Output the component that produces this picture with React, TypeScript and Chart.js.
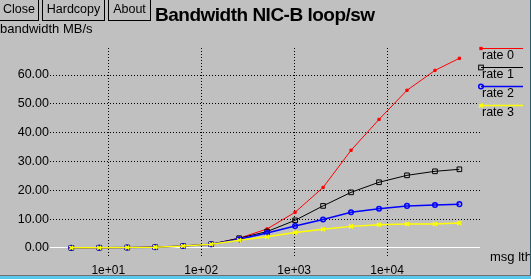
import React, { useEffect, useRef } from "react";
import { Chart, registerables } from "chart.js";

Chart.register(...registerables);

const msgLengths = [4, 8, 16, 32, 64, 128, 256, 512, 1024, 2048, 4096, 8192, 16384, 32768, 60000];
const rate0 = [0.05, 0.1, 0.15, 0.3, 0.7, 1.3, 3.4, 6.6, 12.4, 21.0, 33.9, 44.6, 54.7, 61.6, 65.8];
const rate1 = [0.05, 0.1, 0.15, 0.3, 0.7, 1.3, 3.4, 5.7, 9.6, 14.6, 19.3, 22.8, 25.2, 26.6, 27.3];
const rate2 = [0.05, 0.1, 0.15, 0.3, 0.7, 1.3, 3.0, 5.2, 7.6, 9.9, 12.4, 13.6, 14.6, 14.9, 15.2];
const rate3 = [0.05, 0.1, 0.15, 0.3, 0.7, 1.3, 2.7, 3.9, 5.4, 6.5, 7.5, 8.1, 8.3, 8.3, 8.7];
const seriesNames = ["rate 0", "rate 1", "rate 2", "rate 3"];
const xTickValues = [10, 100, 1000, 10000];
const xTickLabels = ["1e+01", "1e+02", "1e+03", "1e+04"];
const yTickValues = [0, 10, 20, 30, 40, 50, 60];

const FONT = '"Liberation Sans", Arial, Helvetica, sans-serif';

type Style = { color: string; marker: string; radius: number; lw: number; mw: number; fill: boolean };
const styles: Style[] = [
  { color: "#ff0000", marker: "rect", radius: 1.6, lw: 1, mw: 1, fill: true },
  { color: "#000000", marker: "rect", radius: 3.3, lw: 1, mw: 1, fill: false },
  { color: "#0000ff", marker: "circle", radius: 2.3, lw: 1.5, mw: 1.5, fill: false },
  { color: "#ffff00", marker: "crossRot", radius: 2.8, lw: 1.5, mw: 1.5, fill: false },
];

function toPoints(vals: number[]) {
  return msgLengths.map((x, i) => ({ x, y: vals[i] }));
}

function drawMarker(ctx: CanvasRenderingContext2D, s: Style, x: number, y: number) {
  ctx.save();
  ctx.strokeStyle = s.color;
  ctx.fillStyle = s.color;
  ctx.lineWidth = s.mw;
  ctx.setLineDash([]);
  if (s.marker === "rect") {
    const h = s.radius * Math.SQRT1_2;
    if (s.fill) ctx.fillRect(x - h, y - h, 2 * h, 2 * h);
    ctx.strokeRect(x - h, y - h, 2 * h, 2 * h);
  } else if (s.marker === "circle") {
    ctx.beginPath();
    ctx.arc(x, y, s.radius, 0, Math.PI * 2);
    ctx.stroke();
  } else {
    const d = s.radius * Math.SQRT1_2;
    ctx.beginPath();
    ctx.moveTo(x - d, y - d);
    ctx.lineTo(x + d, y + d);
    ctx.moveTo(x + d, y - d);
    ctx.lineTo(x - d, y + d);
    ctx.stroke();
  }
  ctx.restore();
}

const sideLegend = {
  id: "sideLegend",
  afterDraw(chart: any) {
    const ctx: CanvasRenderingContext2D = chart.ctx;
    const x0 = chart.chartArea.right + 1;
    const x1 = x0 + 42;
    ctx.save();
    seriesNames.forEach((name, i) => {
      const s = styles[i];
      const y = Math.round(48 + i * 19.1) + 0.5;
      ctx.strokeStyle = s.color;
      ctx.lineWidth = s.lw;
      ctx.setLineDash([]);
      ctx.beginPath();
      ctx.moveTo(x0, y);
      ctx.lineTo(x1, y);
      ctx.stroke();
      drawMarker(ctx, s, x0, y);
      ctx.fillStyle = "#000";
      ctx.font = `12.5px ${FONT}`;
      ctx.textAlign = "left";
      ctx.textBaseline = "alphabetic";
      ctx.fillText(name, x0 + 1, y + 10);
    });
    ctx.restore();
  },
};

export default function App() {
  const ref = useRef<HTMLCanvasElement>(null);

  useEffect(() => {
    const all = [rate0, rate1, rate2, rate3];
    const chart = new Chart(ref.current as HTMLCanvasElement, {
      type: "line",
      data: {
        datasets: all.map((vals, i) => {
          const s = styles[i];
          return {
            label: seriesNames[i],
            data: toPoints(vals),
            borderColor: s.color,
            backgroundColor: s.fill ? s.color : "rgba(0,0,0,0)",
            borderWidth: s.lw,
            pointStyle: s.marker,
            pointRadius: s.radius,
            pointBorderWidth: s.mw,
            pointBorderColor: s.color,
            pointBackgroundColor: s.fill ? s.color : "rgba(0,0,0,0)",
            tension: 0,
            fill: false,
            order: 3 - i,
          } as any;
        }),
      },
      options: {
        animation: false,
        responsive: false,
        devicePixelRatio: 1,
        events: [],
        layout: { padding: { top: 48, right: 51, left: 0, bottom: 0 } },
        plugins: {
          legend: { display: false },
          tooltip: { enabled: false },
          title: { display: false },
        },
        scales: {
          x: {
            type: "logarithmic",
            min: 2.36,
            max: 100000,
            afterBuildTicks: (scale: any) => {
              scale.ticks = xTickValues.map((v) => ({ value: v }));
            },
            afterFit: (scale: any) => {
              scale.height = 21;
            },
            ticks: {
              autoSkip: false,
              maxRotation: 0,
              padding: 5,
              color: "#000",
              font: { family: FONT, size: 12 },
              callback: (v: any) => {
                const idx = xTickValues.indexOf(Number(v));
                return idx >= 0 ? xTickLabels[idx] : "";
              },
            },
            grid: { color: "#000", lineWidth: 1, drawTicks: false },
            border: { display: false, dash: [1, 2] },
          },
          y: {
            type: "linear",
            min: -3.47,
            max: 69.37,
            afterBuildTicks: (scale: any) => {
              scale.ticks = yTickValues.map((v) => ({ value: v }));
            },
            afterFit: (scale: any) => {
              scale.width = 50;
            },
            ticks: {
              padding: 1,
              color: "#000",
              font: { family: FONT, size: 12.5 },
              callback: (v: any) => Number(v).toFixed(2),
            },
            grid: {
              lineWidth: 1,
              drawTicks: false,
              color: (ctx: any) => (ctx.tick && ctx.tick.value === 0 ? "#ffffff" : "#000000"),
            },
            border: {
              display: false,
              dash: (ctx: any) => (ctx.tick && ctx.tick.value === 0 ? [] : [1, 2]),
            },
          },
        },
      } as any,
      plugins: [sideLegend],
    });
    return () => chart.destroy();
  }, []);

  const btn = (left: number, width: number): React.CSSProperties => ({
    position: "absolute",
    left,
    top: -1,
    width: width - 2,
    height: 20,
    border: "1px solid #000",
    boxSizing: "content-box",
    fontSize: 12.5,
    lineHeight: "18px",
    textAlign: "center",
    fontFamily: FONT,
  });

  return (
    <div
      style={{
        position: "absolute",
        left: 0,
        top: 0,
        width: 531,
        height: 279,
        background: "#c0c0c0",
        overflow: "hidden",
        fontFamily: FONT,
        color: "#000",
      }}
    >
      <canvas
        ref={ref}
        width={531}
        height={279}
        style={{ position: "absolute", left: 0, top: 0, width: 531, height: 279, display: "block" }}
      />
      <div style={btn(-1, 40)}>Close</div>
      <div style={btn(42, 63)}>Hardcopy</div>
      <div style={btn(108, 43)}>About</div>
      <div
        style={{
          position: "absolute",
          left: 155,
          top: 5,
          fontSize: 19,
          lineHeight: "19px",
          fontWeight: "bold",
          letterSpacing: -0.5,
          whiteSpace: "nowrap",
        }}
      >
        Bandwidth NIC-B loop/sw
      </div>
      <div style={{ position: "absolute", left: 0, top: 21.5, fontSize: 13, lineHeight: "13px", whiteSpace: "nowrap" }}>
        bandwidth MB/s
      </div>
      <div style={{ position: "absolute", left: 490, top: 249.5, fontSize: 13, lineHeight: "13px", whiteSpace: "nowrap" }}>
        msg lth
      </div>
      <div style={{ position: "absolute", left: 530, top: 0, width: 1, height: 275, background: "#2b5a6a" }} />
      <div style={{ position: "absolute", left: 0, top: 275, width: 531, height: 1, background: "#707070" }} />
      <div style={{ position: "absolute", left: 0, top: 276, width: 531, height: 3, background: "#58c8ec" }} />
    </div>
  );
}
